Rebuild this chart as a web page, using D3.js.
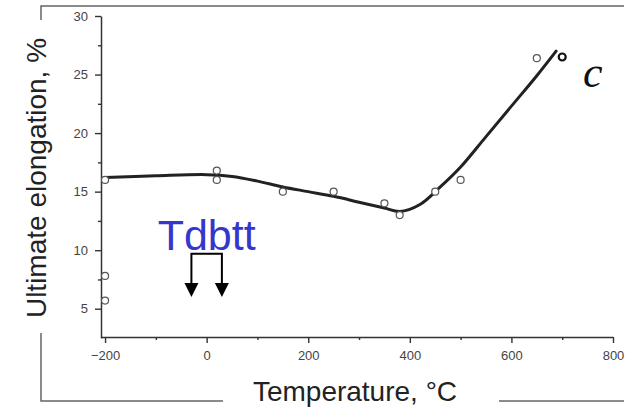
<!DOCTYPE html>
<html>
<head>
<meta charset="utf-8">
<script src="https://cdn.jsdelivr.net/npm/d3@7"></script>
<style>
  html, body { margin: 0; padding: 0; background: #fff; }
  svg { display: block; }
</style>
</head>
<body>
<svg id="chart" width="637" height="409"></svg>
<script>
// Measured points: temperature (°C) and ultimate elongation (%)
const temps = [-200, -200, -200, 20, 20, 150, 250, 350, 380, 450, 500, 650, 700];
const elong = [16.0, 7.8, 5.7, 16.8, 16.0, 15.0, 15.0, 14.0, 13.0, 15.0, 16.0, 26.4, 26.5];

// Smoothed trend through the measurements
const fitTemps = [-200, -100, 0, 50, 100, 150, 200, 250, 300, 350, 380, 420, 460, 500, 550, 600, 650, 688];
const fitElong = [16.2, 16.35, 16.45, 16.3, 15.9, 15.4, 15.0, 14.6, 14.1, 13.6, 13.3, 13.9, 15.4, 17.1, 19.7, 22.3, 24.9, 27.0];

// Axis ticks
const xMajorTicks = [-200, 0, 200, 400, 600, 800];
const xMinorTicks = [-100, 100, 300, 500, 700];
const yMajorTicks = [5, 10, 15, 20, 25, 30];
const yMinorTicks = [7.5, 12.5, 17.5, 22.5, 27.5];

// Annotation: ductile-brittle transition range
const transitionLabel = "Tdbtt";
const transitionRange = [-30, 30];
const transitionY = [9.7, 6.0];
const curveLabel = "c";
const curveLabelAt = [760, 23.9];

const svg = d3.select("#chart");

const x = d3.scaleLinear().domain([-208, 800]).range([101, 613]);
const y = d3.scaleLinear().domain([2.5, 30]).range([338, 16]);

// Page frame lines
const frame = svg.append("g").attr("stroke", "#666").attr("stroke-width", 1.5).attr("fill", "none");
frame.append("path").attr("d", "M41,20 V6 H624");
frame.append("path").attr("d", "M41,333 V401 H223");
frame.append("path").attr("d", "M499,401 H624");

// Axes
const tickFont = g => g.selectAll("text")
  .attr("font-family", "Liberation Sans, Arial, sans-serif")
  .attr("font-size", 13)
  .attr("fill", "#444");

svg.append("g").attr("transform", `translate(0,${y.range()[0] - 1})`)
  .call(d3.axisBottom(x).tickValues(xMajorTicks).tickSize(6).tickPadding(8).tickSizeOuter(0))
  .call(tickFont);
svg.append("g").attr("transform", `translate(0,${y.range()[0] - 1})`)
  .call(d3.axisBottom(x).tickValues(xMinorTicks).tickSize(3).tickFormat("").tickSizeOuter(0))
  .call(g => g.select(".domain").remove());

svg.append("g").attr("transform", `translate(${x.range()[0]},0)`)
  .call(d3.axisLeft(y).tickValues(yMajorTicks).tickSize(6).tickPadding(7).tickSizeOuter(0))
  .call(tickFont);
svg.append("g").attr("transform", `translate(${x.range()[0]},0)`)
  .call(d3.axisLeft(y).tickValues(yMinorTicks).tickSize(3).tickFormat("").tickSizeOuter(0))
  .call(g => g.select(".domain").remove());

svg.selectAll(".domain").attr("stroke", "#333").attr("stroke-width", 1.5);
svg.selectAll(".tick line").attr("stroke", "#333").attr("stroke-width", 1.4);

// Axis titles
svg.append("text")
  .attr("x", 355).attr("y", 401)
  .attr("text-anchor", "middle")
  .attr("font-family", "Liberation Sans, Arial, sans-serif")
  .attr("font-size", 28)
  .attr("fill", "#222")
  .text("Temperature, °C");

svg.append("text")
  .attr("transform", "translate(46,178) rotate(-90)")
  .attr("text-anchor", "middle")
  .attr("font-family", "Liberation Sans, Arial, sans-serif")
  .attr("font-size", 28)
  .attr("fill", "#222")
  .text("Ultimate elongation, %");

// Trend line
const fit = fitTemps.map((t, i) => [t, fitElong[i]]);
svg.append("path")
  .datum(fit)
  .attr("fill", "none")
  .attr("stroke", "#222")
  .attr("stroke-width", 3)
  .attr("stroke-linecap", "round")
  .attr("d", d3.line().x(d => x(d[0])).y(d => y(d[1])).curve(d3.curveCatmullRom.alpha(0.5)));

// Data points (the highest-temperature point drawn heavier)
const pts = temps.map((t, i) => ({ t, e: elong[i] }));
const maxT = d3.max(temps);
svg.append("g").selectAll("circle")
  .data(pts)
  .join("circle")
  .attr("cx", d => x(d.t))
  .attr("cy", d => y(d.e))
  .attr("r", 3.5)
  .attr("fill", "#fff")
  .attr("stroke", d => d.t === maxT ? "#111" : "#555")
  .attr("stroke-width", d => d.t === maxT ? 2.2 : 1.2);

// Curve label
svg.append("text")
  .attr("x", x(curveLabelAt[0])).attr("y", y(curveLabelAt[1]))
  .attr("text-anchor", "middle")
  .attr("font-family", "Liberation Serif, Times New Roman, serif")
  .attr("font-style", "italic")
  .attr("font-size", 44)
  .attr("fill", "#111")
  .text(curveLabel);

// Transition annotation: label with a bracket of two arrows
const xMid = x((transitionRange[0] + transitionRange[1]) / 2);
svg.append("text")
  .attr("x", xMid).attr("y", y(10))
  .attr("text-anchor", "middle")
  .attr("font-family", "Liberation Sans, Arial, sans-serif")
  .attr("font-size", 43)
  .attr("fill", "#3636cc")
  .text(transitionLabel);

const xl = x(transitionRange[0]), xr = x(transitionRange[1]);
const yTop = y(transitionY[0]), yTip = y(transitionY[1]);
const headH = 14, headW = 7;
svg.append("path")
  .attr("fill", "none").attr("stroke", "#000").attr("stroke-width", 2)
  .attr("d", `M${xl},${yTip - headH + 1} V${yTop} H${xr} V${yTip - headH + 1}`);
svg.append("g").selectAll("path")
  .data([xl, xr])
  .join("path")
  .attr("fill", "#000")
  .attr("d", cx => `M${cx - headW},${yTip - headH} L${cx + headW},${yTip - headH} L${cx},${yTip} Z`);
</script>
</body>
</html>
